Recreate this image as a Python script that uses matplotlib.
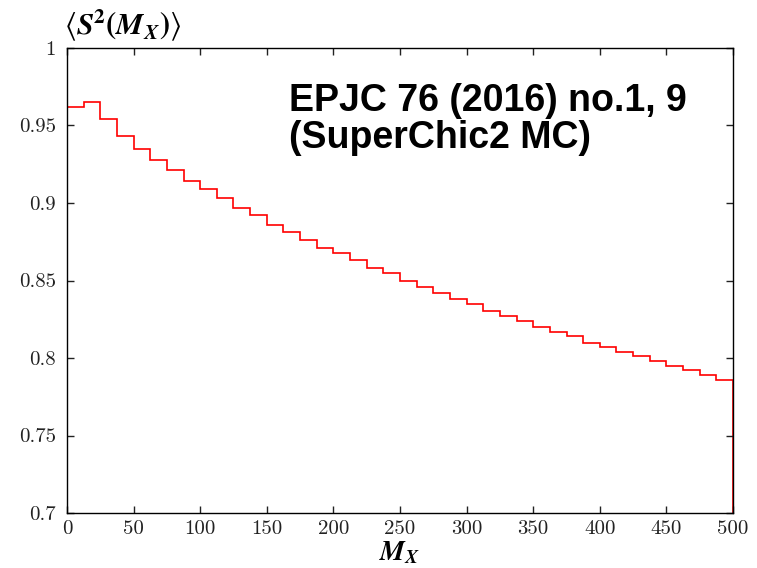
import matplotlib
matplotlib.use("Agg")
from matplotlib import pyplot as plt
import numpy as np

# bin edges (width 12.5) and the suppression factor per bin
bin_edges = np.linspace(0, 500, 41)
s2_values = [0.962, 0.965, 0.954, 0.943, 0.935, 0.928, 0.921, 0.914, 0.909, 0.903,
             0.897, 0.892, 0.886, 0.881, 0.876, 0.871, 0.868, 0.863, 0.858, 0.855,
             0.850, 0.846, 0.842, 0.838, 0.835, 0.8305, 0.827, 0.824, 0.820, 0.817,
             0.814, 0.810, 0.807, 0.804, 0.801, 0.798, 0.795, 0.792, 0.789, 0.786]

x_ticks = [0, 50, 100, 150, 200, 250, 300, 350, 400, 450, 500]
y_ticks = [0.7, 0.75, 0.8, 0.85, 0.9, 0.95, 1.0]
y_tick_labels = ['0.7', '0.75', '0.8', '0.85', '0.9', '0.95', '1']

plt.rcParams['font.family'] = 'serif'
plt.rcParams['font.serif'] = ['cmr10']
plt.rcParams['mathtext.fontset'] = 'stix'
plt.rcParams['axes.formatter.use_mathtext'] = True

fig = plt.figure(figsize=(7.57, 5.68), dpi=100)
ax = fig.add_axes([0.0885, 0.0968, 0.8798, 0.8187])

ax.stairs(s2_values, bin_edges, baseline=0.7, color='#ff0000', linewidth=1.2)

ax.set_xlim(0, 500)
ax.set_ylim(0.7, 1.0)
ax.set_xticks(x_ticks)
ax.set_xticklabels([str(t) for t in x_ticks])
ax.set_yticks(y_ticks)
ax.set_yticklabels(y_tick_labels)
ax.tick_params(direction='in', length=5, width=1, top=True, right=True,
               labelsize=15, colors='#222222')
ax.tick_params(axis='y', pad=8)
ax.tick_params(axis='x', pad=5)
for sp in ax.spines.values():
    sp.set_linewidth(1.0)

ax.text(-0.004, 1.008,
        r'$\langle \mathbfit{S}^{\mathbf{2}}\mathbf{(}\mathbfit{M}_{\mathbfit{X}}\mathbf{)}\rangle$',
        transform=ax.transAxes, ha='left', va='bottom', fontsize=22)
ax.text(0.5, -0.058, r'$\mathbfit{M}_{\mathbfit{X}}$', transform=ax.transAxes,
        ha='center', va='top', fontsize=20)

ax.text(0.334, 0.925, 'EPJC 76 (2016) no.1, 9\n(SuperChic2 MC)',
        transform=ax.transAxes, ha='left', va='top', fontsize=27,
        fontweight='bold', family='Liberation Sans', linespacing=1.05)

fig.savefig('out.png', dpi=100)
